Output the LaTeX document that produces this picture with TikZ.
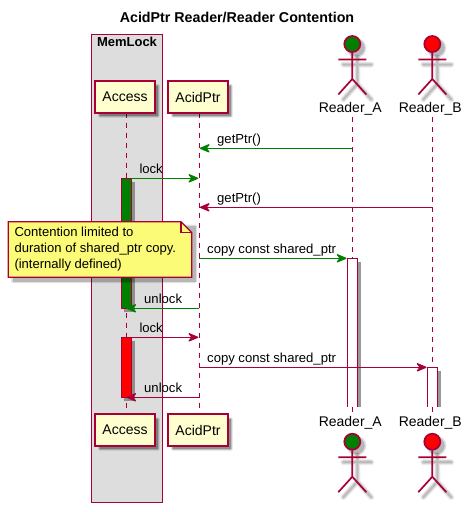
\documentclass[tikz,border=0pt]{standalone}
\usepackage{fontspec}
\setmainfont{Liberation Sans}
\usetikzlibrary{arrows.meta}
\definecolor{crim}{HTML}{A80036}
\definecolor{boxfill}{HTML}{FEFECE}
\definecolor{notefill}{HTML}{FBFB77}
\definecolor{grp}{HTML}{DDDDDD}
\definecolor{grn}{HTML}{008000}
\tikzset{
  part/.style={draw=crim,line width=1.7pt,fill=boxfill,minimum width=59.4pt,minimum height=31.4pt,inner sep=0pt,font=\fontsize{14}{16}\selectfont},
  life/.style={draw=crim,line width=1.2pt,dash pattern=on 5pt off 5pt},
  msg/.style={line width=1.2pt,-{Stealth[length=12pt,width=10pt,inset=4pt,round=false]}},
  lbl/.style={anchor=base west,inner sep=0pt,font=\fontsize{13.1}{15}\selectfont},
  actorname/.style={inner sep=0pt,font=\fontsize{14}{16}\selectfont},
  act/.style={draw=crim,line width=1.2pt},
  limb/.style={draw=crim,line width=1.7pt},
}
\newcommand{\softbox}[4]{%
  \fill[black,opacity=.14,rounded corners=2pt] (#1-1,#2-1) rectangle (#3+1,#4+1);
  \fill[black,opacity=.18,rounded corners=1pt] (#1,#2) rectangle (#3,#4);
  \fill[black,opacity=.2] (#1+.8,#2+.8) rectangle (#3-.8,#4-.8);
}
\newcommand{\actorfig}[3]{% x, head y, fill
  \foreach \w/\o in {6/.07,4/.09,2/.12}{
    \draw[draw=black,opacity=\o,line width=\w pt,line cap=round] (#1+5,#2+5+8) -- (#1+5,#2+5+35) (#1-9,#2+5+15.5) -- (#1+19,#2+5+15.5) (#1-9,#2+5+50.5) -- (#1+5,#2+5+35) -- (#1+19,#2+5+50.5);
  }
  \fill[black,opacity=.12] (#1+4,#2+4) circle (10);
  \fill[black,opacity=.18] (#1+4,#2+4) circle (8.5);
  \draw[limb] (#1,#2+8) -- (#1,#2+35) (#1-14,#2+15.5) -- (#1+14,#2+15.5) (#1-14,#2+50.5) -- (#1,#2+35) -- (#1+14,#2+50.5);
  \draw[limb,fill=#3] (#1,#2) circle (8);
}
\begin{document}
\begin{tikzpicture}[x=1pt,y=-1pt]
\useasboundingbox (0,0) rectangle (472,512);
\fill[white] (0,0) rectangle (472,512);

\node[font=\bfseries\fontsize{14.25}{16}\selectfont,inner sep=0pt,anchor=base] (title) at (237,22.7) {AcidPtr Reader/Reader Contention};

% group
\draw[crim,line width=1.2pt,fill=grp] (91.7,34.4) rectangle (162.4,502.3);
\node[font=\bfseries\fontsize{13}{15}\selectfont,inner sep=0pt,anchor=base] (mem) at (127,46.7) {MemLock};

% lifeline ends
\coordinate (LAt) at (126.3,112.7); \coordinate (LAb) at (126.3,414.3);
\coordinate (LPt) at (199.3,112.7); \coordinate (LPb) at (199.3,414.3);
\coordinate (LRt) at (352.3,117);   \coordinate (LRb) at (352.3,413.5);
\coordinate (LSt) at (432.3,117);   \coordinate (LSb) at (432.3,413.5);
\draw[life] (LAt) -- (LAb);
\draw[life] (LPt) -- (LPb);
\draw[life] (LRt) -- (LRb);
\draw[life] (LSt) -- (LSb);

% participant shadows
\softbox{99}{85}{158.7}{116.7}
\softbox{172}{85}{231.7}{116.7}
\softbox{99}{418.3}{158.7}{449.7}
\softbox{172}{418.3}{231.7}{449.7}

\node[part] (access) at (125,97) {Access};
\node[part] (acid) at (198,97) {AcidPtr};
\node[part] (accessb) at (125,430) {Access};
\node[part] (acidb) at (198,430) {AcidPtr};

% actors
\actorfig{352.3}{44}{grn}
\actorfig{432.3}{44}{red}
\actorfig{352.3}{441.7}{grn}
\actorfig{432.3}{441.7}{red}
\node[actorname] (ra) at (350.3,109) {Reader\_A};
\node[actorname] (rb) at (430.3,109) {Reader\_B};
\node[actorname] (rab) at (350.3,423) {Reader\_A};
\node[actorname] (rbb) at (430.3,423) {Reader\_B};

% activations
\fill[black,opacity=.35] (124.3,182) rectangle (134.8,311.5);
\fill[black,opacity=.35] (124.3,341) rectangle (134.8,400.5);
\draw[act,fill=grn] (121.3,178.3) rectangle (131.3,308.3);
\draw[act,fill=red] (121.3,337.3) rectangle (131.3,397.3);
\fill[black,opacity=.4] (357,262) rectangle (361,406.7);
\fill[black,opacity=.4] (437,371) rectangle (441,406.7);
\fill[white] (347.7,258.3) rectangle (357.3,406.7);
\fill[white] (427.3,367.3) rectangle (437.3,406.7);
\draw[act] (347.7,406.7) -- (347.7,258.3) -- (357.3,258.3) -- (357.3,406.7);
\draw[act] (427.3,406.7) -- (427.3,367.3) -- (437.3,367.3) -- (437.3,406.7);

% message ends
\coordinate (m1a) at (352.3,148.3); \coordinate (m1b) at (199.8,148.3);
\coordinate (m2a) at (131.3,178.3); \coordinate (m2b) at (198.3,178.3);
\coordinate (m3a) at (432.3,207.3); \coordinate (m3b) at (199.8,207.3);
\coordinate (m4a) at (199.3,258.3); \coordinate (m4b) at (346.5,258.3);
\coordinate (m5a) at (199.3,308.3); \coordinate (m5b) at (126.3,308.3);
\coordinate (m6a) at (131.3,337.3); \coordinate (m6b) at (198.3,337.3);
\coordinate (m7a) at (199.3,367.3); \coordinate (m7b) at (426.5,367.3);
\coordinate (m8a) at (199.3,397.3); \coordinate (m8b) at (126.3,397.3);

\draw[msg,grn] (m1a) -- (m1b);
\draw[msg,grn] (m2a) -- (m2b);
\draw[msg,crim] (m3a) -- (m3b);
\draw[msg,grn] (m4a) -- (m4b);
\draw[msg,grn] (m5a) -- (m5b);
\draw[msg,crim] (m6a) -- (m6b);
\draw[msg,crim] (m7a) -- (m7b);
\draw[msg,crim] (m8a) -- (m8b);

\node[lbl] (t1) at (217,143.3) {getPtr()};
\node[lbl] (t2) at (139.3,173.3) {lock};
\node[lbl] (t3) at (217,202.3) {getPtr()};
\node[lbl] (t4) at (207,253) {copy const shared\_ptr};
\node[lbl] (t5) at (144,303) {unlock};
\node[lbl] (t6) at (139.3,332.3) {lock};
\node[lbl] (t7) at (207,362.3) {copy const shared\_ptr};
\node[lbl] (t8) at (144,392.3) {unlock};

% note
\fill[black,opacity=.12,rounded corners=2pt] (11,224.5) rectangle (197,283);
\fill[black,opacity=.18] (12.5,226) rectangle (195.5,281.5);
\draw[crim,line width=1.2pt,fill=notefill] (8.3,221.7) -- (181,221.7) -- (191.7,232.4) -- (191.7,277.3) -- (8.3,277.3) -- cycle;
\draw[crim,line width=1.2pt] (181,221.7) -- (181,232.4) -- (191.7,232.4);
\node[anchor=west,align=left,inner sep=0pt,font=\fontsize{13.05}{16}\selectfont] (note) at (14.3,249.6) {Contention limited to\\duration of shared\_ptr copy.\\(internally defined)};
\end{tikzpicture}
\end{document}
